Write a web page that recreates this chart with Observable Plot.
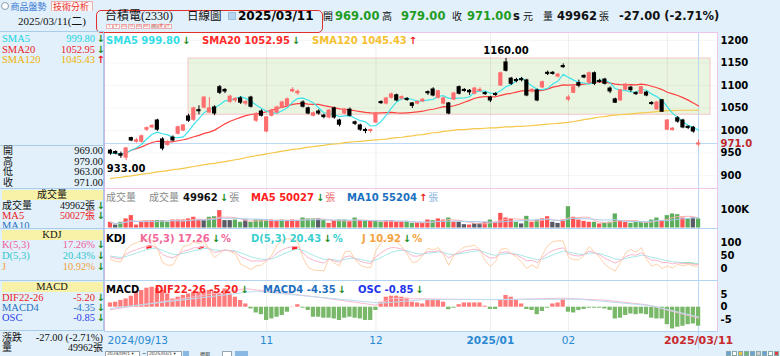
<!DOCTYPE html>
<html><head><meta charset="utf-8">
<script src="https://cdn.jsdelivr.net/npm/d3@7"></script>
<script src="https://cdn.jsdelivr.net/npm/@observablehq/plot@0.6"></script>
<style>
html,body{margin:0;padding:0;background:#e1f0fb;}
#root{position:relative;width:780px;height:356px;overflow:hidden;background:#e1f0fb;}
.t{position:absolute;line-height:1.15;white-space:nowrap;transform:translateY(-50%);}
.b{position:absolute;box-sizing:border-box;}
.num{font-family:"DejaVu Sans",sans-serif;font-weight:bold;font-size:10px;}
.cjk{font-family:"Noto Sans CJK TC",sans-serif;font-size:10px;}
.ser{font-family:"Liberation Serif","Noto Sans CJK TC",serif;font-size:10.5px;color:#111;}
.t span{display:inline-block;}
svg g[aria-label="y-axis tick label"] text{font-weight:bold;}
</style></head><body><div id="root"></div>
<script>
// ---------------- data ----------------
const open = [955,952,947,940,983,975,975,1002,1007,1022,
 980,968,984,993,1000,1031,1024,1045,1051,1040,
 1051,1096,1090,1064,1067,1071,1060,1073,1022,1042,
 998,1033,1040,1051,1055,1087,1083,1062,1049,1033,
 1042,1033,1029,1049,1022,1038,1046,1018,1011,1001,
 999,1018,1063,1060,1073,1078,1071,1070,1060,1060,
 1065,1085,1091,1073,1060,1060,1069,1096,1090,1088,
 1082,1088,1083,1073,1081,1100,1151,1115,1112,1114,
 1111,1087,1089,1096,1128,1128,1120,1143,1069,1084,
 1105,1121,1107,1127,1110,1113,1093,1069,1067,1091,
 1095,1083,1082,1084,1061,1047,1067,1002,1001,1027,
 1022,1008,1006,969];
const close = [949,949,944,960,978,978,987,1005,1010,1002,
 960,974,978,1007,1011,1022,1049,1043,1073,1049,
 1038,1084,1087,1075,1070,1062,1063,1053,1036,1033,
 1029,1044,1051,1062,1069,1090,1086,1053,1038,1038,
 1038,1030,1044,1029,1013,1046,1033,1015,1002,999,
 1001,1038,1061,1071,1080,1067,1074,1068,1055,1063,
 1068,1083,1078,1087,1071,1038,1082,1082,1088,1085,
 1093,1090,1081,1067,1079,1127,1133,1104,1110,1112,
 1078,1090,1067,1107,1126,1126,1124,1141,1073,1096,
 1100,1118,1127,1104,1108,1104,1087,1062,1089,1102,
 1090,1081,1096,1078,1059,1062,1042,1022,1004,1020,
 1007,1006,998,971];
const high = [958,955,952,962,985,982,990,1008,1013,1025,
 984,978,988,1010,1013,1036,1052,1055,1075,1073,
 1055,1100,1093,1078,1073,1075,1066,1076,1040,1046,
 1031,1047,1054,1065,1072,1095,1090,1066,1052,1041,
 1046,1036,1047,1052,1025,1049,1050,1021,1014,1005,
 1003,1040,1066,1073,1083,1081,1077,1073,1062,1066,
 1071,1088,1095,1089,1074,1062,1085,1099,1093,1091,
 1096,1095,1086,1076,1084,1130,1160,1118,1116,1118,
 1114,1093,1092,1110,1132,1131,1127,1148,1078,1100,
 1112,1124,1130,1130,1114,1116,1097,1072,1091,1104,
 1098,1086,1098,1087,1064,1064,1069,1024,1006,1031,
 1025,1010,1009,979];
const low = [945,946,938,933,975,972,972,998,1004,998,
 955,965,975,990,998,1018,1020,1035,1048,1038,
 1033,1080,1082,1060,1062,1058,1055,1050,1018,1030,
 995,1030,1037,1048,1052,1084,1078,1050,1035,1030,
 1034,1026,1026,1025,1008,1035,1030,1011,998,993,
 994,1015,1058,1057,1070,1064,1068,1065,1049,1057,
 1062,1078,1075,1070,1057,1035,1066,1079,1085,1078,
 1079,1085,1078,1062,1076,1098,1130,1100,1106,1108,
 1075,1083,1064,1093,1122,1123,1117,1138,1064,1082,
 1095,1115,1104,1100,1105,1101,1082,1060,1065,1088,
 1085,1078,1080,1075,1056,1045,1040,1000,999,1016,
 1004,1002,994,963];
const sma120 = [893,895,896,898,899,901,903,904,906,908,909,911,913,914,916,
 918,920,922,924,926,927,929,931,933,
 935,937,940,942,944,946,
 948,950,952,954,956,958,959,961,963,
 964,966,967,969,970,971,973,974,
 975,976,977,978,979,980,981,983,984,985,
 987,988,990,991,993,995,996,998,999,1001,
 1002,1002,1003,1004,1004,1005,1006,1006,1007,1008,
 1008,1009,1009,1010,
 1011,1012,1013,1014,1015,1016,1017,1018,
 1020,1022,1024,1026,1028,1030,1031,1033,
 1034,1035,1036,1037,
 1038,1039,1040,1041,1042,1043,
 1044,1044,1045,1045,1045,1045,1045.43];
// volume in thousands of 張
const volume = [31,16,31,49,67,16,31,40,40,40,
 40,31,43,43,43,49,58,43,40,58,
 61,94,40,40,43,31,43,31,43,43,
 43,43,40,43,40,43,40,54,49,49,
 49,40,25,40,43,43,36,54,40,36,
 36,36,31,40,40,31,31,36,25,25,
 25,43,40,49,43,54,31,31,18,16,
 25,25,31,43,31,79,54,49,31,22,
 63,31,43,49,61,31,25,43,115,58,
 43,36,31,31,22,25,31,76,40,31,
 25,31,31,31,43,54,40,67,76,72,
 54,49,54,49];
const volColor = ("rkgrrrrrrg"+"ggrrrrrrkg"+"grkkggkggg"+"grrgrrrggg"+"kgrrggrgrg"+
 "rggrrrrggr"+"rrgrrgrkkr"+"kkrgrrrrgk"+"grgrrkkrgr"+"rrrgrgggrr"+"ggggggrggg"+"rgkg").split("");
const macdBar = [1.7,2,2.7,3.3,4.4,6,6.7,7.6,8,7.6,
 6.7,5.3,3.3,4,4.7,5.3,6,6,6.3,6.7,
 6.3,5.3,7.3,5.3,4,2.7,1.3,-0.7,-2.3,-3,
 -5.3,-4.7,-4,-3.3,-2,0.1,1,-0.4,-1.3,-4,
 -4,-4.4,-4.4,-4.7,-5.3,-4.4,-4,-4.4,-4.7,-5.3,
 -5.3,-1.3,2,4,4.4,4.4,4,3.6,2,1.7,
 1.3,2.7,3,3,2,-1,-0.4,1,1.7,1.7,
 1.7,1.7,0.4,-0.9,-0.9,2.7,4.7,4,2.7,1.3,
 -0.9,-1.3,-3,-1.7,-0.4,1.3,1.7,3,-2,-2.3,
 -1.3,-0.9,-0.4,-0.4,-0.4,-0.7,-1.3,-4.7,-4.4,-3.3,
 -2.7,-3,-2.7,-3,-4.4,-4.7,-4.7,-7,-8.7,-8,
 -7.6,-7,-6.7,-7.6];
// faint DIF / MACD lines (index, value)
const difLine = [[0,-1],[26,7.4],[40,4],[51,0.8],[54,3.5],[65,3.2],[75,3],[87,3.6],[95,2.8],[103,1],[113,-4.4]];
const signalLine = [[0,-0.5],[28,6.4],[52,1.6],[60,3],[90,3.2],[104,0.6],[113,-3.9]];
const rangeBox = {i1:15, i2:115.3, lo:1035, hi:1160};
const priceTicks = [900,950,1000,1050,1100,1150,1200];
const volTicks = [100];
const kdjTicks = [0,50,100];
const macdTicks = [-5,0,5];
const monthStarts = [30,51,73,88,107];
const tickIdx = [0,30,51,73,88,113];
const tickLabels = ["2024/09/13","11","12","2025/01","02","2025/03/11"];

// ---------------- derived ----------------
const rows = open.map((o,i)=>({i, open:o, close:close[i], high:high[i], low:low[i],
  vol:volume[i], vc:volColor[i], macd:macdBar[i], sma120:sma120[i]}));
const lastIdx = rows.length-1, lastClose = close[lastIdx];
// KDJ(5,3) indicator from the candles
const kd = []; {let K=50,D=50; for(let i=0;i<rows.length;i++){const s=Math.max(0,i-4);
  const hh=d3.max(high.slice(s,i+1)), ll=d3.min(low.slice(s,i+1));
  const rsv=hh===ll?50:(close[i]-ll)/(hh-ll)*100; K=K*2/3+rsv/3; D=D*2/3+K/3;
  kd.push({i,k:K,d:D,j:3*K-2*D});}}

// ---------------- layout helpers ----------------
const root=document.getElementById("root");
function box(x,y,w,h,st){const d=document.createElement("div");d.className="b";
  Object.assign(d.style,{left:x+"px",top:y+"px",width:w+"px",height:h+"px"},st||{});root.appendChild(d);return d;}
function txt(x,y,s,cls,st){const d=document.createElement("div");d.className="t "+(cls||"");d.textContent=s;
  Object.assign(d.style,{left:x+"px",top:y+"px"},st||{});root.appendChild(d);return d;}
function txtR(xr,y,s,cls,st){const d=txt(0,y,s,cls,st);d.style.left="auto";d.style.right=(780-xr)+"px";return d;}
function txtC(xc,y,s,cls,st){const d=txt(xc,y,s,cls,st);d.style.transform="translate(-50%,-50%)";return d;}
const GREEN="#1c8c1c", RED="#ee2222";
function arrow(x,y,up){return txt(x,y,up?"↑":"↓","num",{color:up?RED:GREEN,fontSize:"10px"});}
// legend group: flowing spans starting at x
function group(x,y,parts){const d=txt(x,y,"","");parts.forEach(([s,cls,st])=>{const sp=document.createElement("span");
  sp.className=cls;sp.textContent=s;Object.assign(sp.style,st||{});d.appendChild(sp);});return d;}
const dn=()=>["↓","num",{color:GREEN,margin:"0 1px 0 2px"}];
const up=()=>["↑","num",{color:RED,margin:"0 1px 0 2px"}];

// chart area background
box(104,32,614,299,{background:"#fff"});

// ---------------- plots ----------------
const xDomain=[(104-110)/5.204,(718-110)/5.204];
const common={width:676,marginLeft:0,marginRight:62,marginTop:0,marginBottom:0,
  x:{domain:xDomain,axis:null},
  style:{background:"transparent",fontFamily:"DejaVu Sans",fontSize:"10px",color:"#000",overflow:"visible"}};
function place(svg,top){svg.style.position="absolute";svg.style.left="104px";svg.style.top=top+"px";svg.style.maxWidth="none";root.appendChild(svg);}
const grid=()=>Plot.ruleX(monthStarts,{stroke:"#000",strokeOpacity:0.07});
const lastRule=()=>Plot.ruleX([lastIdx],{stroke:"#b9d9f7"});
const axis=(t,fmt)=>Plot.axisY(t,{anchor:"right",label:null,tickSize:0,tickPadding:2,fontWeight:"bold",fontSize:10,tickFormat:fmt||(d=>String(d))});
const upC="#ff6e6e", dnC="#000";
const cColor=d=>d.close>=d.open?upC:dnC;
const iLo=d3.minIndex(low), iHi=d3.maxIndex(high);

place(Plot.plot({...common,height:156,y:{domain:[871.1,1217.8],axis:null},marks:[
  Plot.rect([rangeBox],{x1:"i1",x2:"i2",y1:"lo",y2:"hi",fill:"#eaf5e1",stroke:"#f6c6c6"}),
  grid(),
  Plot.ruleY(priceTicks,{stroke:"#000",strokeOpacity:0.035}),
  Plot.ruleY([lastClose],{stroke:"#b9d9f7"}),
  lastRule(),
  Plot.line(rows,{x:"i",y:"sma120",stroke:"#f5c84a",strokeWidth:1.2}),
  Plot.line(rows,Plot.windowY({k:20,anchor:"end",strict:false},{x:"i",y:"close",stroke:"#ff4040",strokeWidth:1.2})),
  Plot.line(rows,Plot.windowY({k:5,anchor:"end",strict:false},{x:"i",y:"close",stroke:"#3fe3ea",strokeWidth:1.2})),
  Plot.ruleX(rows,{x:"i",y1:"low",y2:"high",stroke:cColor,strokeWidth:1}),
  Plot.rect(rows,{x1:d=>d.i-0.4,x2:d=>d.i+0.4,y1:d=>Math.min(d.open,d.close),y2:d=>Math.max(d.open,d.close),fill:cColor,insetTop:-0.6,insetBottom:-0.6}),
  Plot.text([rows[iLo]],{x:"i",y:"low",text:d=>d.low.toFixed(2),dy:8,fontWeight:"bold",fontSize:10,fill:"#000"}),
  Plot.text([rows[iHi]],{x:"i",y:"high",text:d=>d.high.toFixed(2),dy:-8,fontWeight:"bold",fontSize:10,fill:"#000"}),
  axis(priceTicks),
  Plot.text([lastClose],{x:xDomain[1],y:d=>d,text:d=>d.toFixed(1),dx:2,textAnchor:"start",fill:"#c0282c",fontWeight:"bold",fontSize:10})
]}),32);

const vColor={r:"#ff5252",g:"#5cae5c",k:"#5a5a66"};
place(Plot.plot({...common,height:40,y:{domain:[-2.7,213.5],axis:null},marks:[
  grid(),lastRule(),
  Plot.rect(rows,{x1:d=>d.i-0.41,x2:d=>d.i+0.41,y1:0,y2:"vol",fill:d=>vColor[d.vc]}),
  Plot.line(rows,Plot.windowY({k:5,anchor:"end",strict:false},{x:"i",y:"vol",stroke:"#ffb4b4",strokeWidth:1})),
  Plot.line(rows,Plot.windowY({k:10,anchor:"end",strict:false},{x:"i",y:"vol",stroke:"#a8ccee",strokeWidth:1})),
  axis(volTicks,d=>d+"K")
]}),188);

place(Plot.plot({...common,height:52,y:{domain:[-46.2,153.8],axis:null},marks:[
  grid(),lastRule(),
  Plot.areaY(kd,{x:"i",y1:d=>d.k>80&&d.k>d.d?d.d:NaN,y2:"k",fill:"#ff1a1a"}),
  Plot.areaY(kd,{x:"i",y1:d=>d.k<20&&d.k<d.d?d.d:NaN,y2:"k",fill:"#22cc22"}),
  Plot.line(kd,{x:"i",y:"j",stroke:"#ffd2aa",strokeWidth:1}),
  Plot.line(kd,{x:"i",y:"d",stroke:"#a8e8e8",strokeWidth:1}),
  Plot.line(kd,{x:"i",y:"k",stroke:"#f9b6cc",strokeWidth:1}),
  axis(kdjTicks)
]}),228);

place(Plot.plot({...common,height:51,y:{domain:[-9.72,10.68],axis:null},marks:[
  grid(),lastRule(),
  Plot.rect(rows,{x1:d=>d.i-0.41,x2:d=>d.i+0.41,y1:0,y2:"macd",fill:d=>d.macd>=0?"#ff7b7b":"#78b868"}),
  Plot.line(difLine,{x:d=>d[0],y:d=>d[1],stroke:"#f6bccb",strokeWidth:1}),
  Plot.line(signalLine,{x:d=>d[0],y:d=>d[1],stroke:"#bcdcf2",strokeWidth:1}),
  axis(macdTicks)
]}),280);

const ticks=tickIdx.map((x,k)=>({x,label:tickLabels[k]}));
place(Plot.plot({...common,height:21,marginBottom:3,marks:[
  lastRule(),
  Plot.text(ticks.slice(0,1),{x:"x",text:"label",textAnchor:"start",dx:-3,frameAnchor:"middle",fill:"#2a88d2",fontSize:10.5}),
  Plot.text([ticks[1],ticks[2],ticks[4]],{x:"x",text:"label",frameAnchor:"middle",fill:"#2a88d2",fontSize:10.5}),
  Plot.text([ticks[3]],{x:"x",text:"label",frameAnchor:"middle",fill:"#2a88d2",fontSize:10.5,fontWeight:"bold"}),
  Plot.text([ticks[5]],{x:"x",text:"label",frameAnchor:"middle",fill:"#c8282c",fontSize:11,fontWeight:"bold"})
]}),331);

// ---------------- borders ----------------
box(104,32,614,1,{background:"#f0c2ec"});
box(104,32,1,299,{background:"#cdb6ea"});
box(717,32,1,299,{background:"#f0c2ec"});
box(104,187.5,614,1.5,{background:"#f2c4ee"});
box(104,228,614,1,{background:"#b2d4f4"});
box(104,280,614,1,{background:"#b2d4f4"});
box(104,330.5,614,1,{background:"#b2d4f4"});

// ---------------- header ----------------
box(1,1.5,8,8,{borderRadius:"50%",border:"1px solid #8a9aa8",background:"#fff"});
txt(10.5,6,"商品盤勢","cjk",{color:"#3a78d0",fontSize:"9px",lineHeight:"1"});
box(51,0.5,42,10.5,{background:"#fff6f6",border:"1px solid #eab0b0",borderBottom:"none"});
txt(53,6,"技術分析","cjk",{color:"#e8322a",fontSize:"9px",lineHeight:"1"});
txtC(52,20.5,"2025/03/11(二)","ser",{fontSize:"11px"});
box(95.5,9.5,227,23.5,{border:"1.5px solid #e0302c",borderRadius:"5px"});
txt(105,16.5,"台積電(2330)","ser",{fontSize:"12px"});
txt(187,16.5,"日線圖","ser",{fontSize:"11.5px"});
box(228,12,8,8,{background:"#b5d3ef",border:"1px solid #9cc0e0"});
txt(238,16.5,"2025/03/11","num",{fontSize:"12px",color:"#000"});
const btnX=[106,113,120.5,128,135.5,143,151,158,165], btnL=["1","5","10","15","30","60","日","週","月"];
btnX.forEach((x,k)=>{box(x,23.5,6.5,5.5,{background:k===6?"#d0d0d0":"#fff",border:"0.5px solid #f0b0b0"});
  txtC(x+3.25,26.3,btnL[k],"num",{fontSize:"3.5px",color:"#e04040",fontWeight:"normal"});});
const G="#1f9c1f";
txt(323,16.5,"開","ser",{fontSize:"10px"});
txt(335,16.5,"969.00","num",{fontSize:"11.5px",color:G});
txt(382,16.5,"高","ser",{fontSize:"10px"});
txt(401,16.5,"979.00","num",{fontSize:"11.5px",color:G});
txt(452,16.5,"收","ser",{fontSize:"10px"});
txt(467,16.5,"971.00","num",{fontSize:"11.5px",color:G});
txt(513,16.5,"s","num",{fontSize:"11.5px",color:"#111"});
txt(523,16.5,"元","ser",{fontSize:"10px"});
txt(543,16.5,"量","ser",{fontSize:"10px"});
txt(557,16.5,"49962","num",{fontSize:"11.5px",color:"#111"});
txt(599,16.5,"張","ser",{fontSize:"10px"});
txt(619,16.5,"-27.00 (-2.71%)","num",{fontSize:"11.5px",color:"#111"});

// ---------------- chart legends ----------------
group(106,39,[["SMA5 999.80","num",{color:"#33dde6"}],dn()]);
group(202,39,[["SMA20 1052.95","num",{color:"#ff2a2a"}],dn()]);
group(312,39,[["SMA120 1045.43","num",{color:"#f5c030"}],up()]);

group(106,196,[["成交量","cjk",{color:"#8a8a8a"}]]);
group(149,196,[["成交量","cjk",{color:"#8a8a8a",marginRight:"4px"}],["49962","num",{color:"#111"}],dn(),["張","cjk",{color:"#8a8a8a"}]]);
group(251,196,[["MA5 50027","num",{color:"#ff2020"}],dn(),["張","cjk",{color:"#f06a6a"}]]);
group(347,196,[["MA10 55204","num",{color:"#1a6fc0"}],up(),["張","cjk",{color:"#8ab6e0"}]]);

group(106,237,[["KDJ","num",{color:"#000"}]]);
group(140,237,[["K(5,3) 17.26","num",{color:"#f2699a"}],dn(),["%","num",{color:"#f2699a"}]]);
group(251,237,[["D(5,3) 20.43","num",{color:"#3ccfd0"}],dn(),["%","num",{color:"#3ccfd0"}]]);
group(362,237,[["J 10.92","num",{color:"#f5a443"}],dn(),["%","num",{color:"#f5a443"}]]);

group(106,288,[["MACD","num",{color:"#000"}]]);
group(155,288,[["DIF22-26 -5.20","num",{color:"#f52222"}],dn()]);
group(263,288,[["MACD4 -4.35","num",{color:"#1f6fc0"}],dn()]);
group(358,288,[["OSC -0.85","num",{color:"#2233ee"}],dn()]);

// ---------------- left info panel ----------------
[31,145,188,280,330].forEach(y=>box(0,y,104,1,{background:"#a9cce9"}));
box(103,31,1,300,{background:"#a9cce9"});
txt(2,39,"SMA5","ser",{color:"#19d5df"}); txtR(95,39,"999.80","ser",{color:"#19d5df"}); arrow(96.5,39);
txt(2,49.5,"SMA20","ser",{color:RED}); txtR(95,49.5,"1052.95","ser",{color:RED}); arrow(96.5,49.5);
txt(2,60,"SMA120","ser",{color:"#f0b000"}); txtR(95,60,"1045.43","ser",{color:"#f0b000"}); arrow(96.5,60,true);
[["開","969.00",151],["高","979.00",161.5],["低","963.00",172],["收","971.00",182.5]].forEach(([a,b,y])=>{
  txt(3,y,a,"ser",{fontSize:"10px"}); txtR(103,y,b,"ser",{fontSize:"10.5px"});});
txt(2,206,"成交量","ser",{fontSize:"10px"}); txtR(95,206,"49962張","ser",{fontSize:"10px"}); arrow(96.5,206);
txt(2,216,"MA5","ser",{color:RED}); txtR(95,216,"50027張","ser",{color:RED,fontSize:"10px"}); arrow(96.5,216);
txt(2,226,"MA10","ser",{color:"#2a72c0"});
box(0,228,103,2,{background:"#e1f0fb"}); box(0,228,104,1,{background:"#a9cce9"});
box(2,189.5,101,10,{background:"#f8f2a8"}); txtC(52,194.7,"成交量","ser",{fontSize:"10px"});
box(2,229.5,101,10,{background:"#f8f2a8"}); txtC(52,234.6,"KDJ","ser");
txt(2,245,"K(5,3)","ser",{color:"#f0609a"}); txtR(95,245,"17.26%","ser",{color:"#f0609a"}); arrow(96.5,245);
txt(2,256,"D(5,3)","ser",{color:"#33c7cc"}); txtR(95,256,"20.43%","ser",{color:"#33c7cc"}); arrow(96.5,256);
txt(2,267,"J","ser",{color:"#f5a040"}); txtR(95,267,"10.92%","ser",{color:"#f5a040"}); arrow(96.5,267);
box(2,282,101,10,{background:"#f8f2a8"}); txtC(52,287,"MACD","ser");
txt(2,298.3,"DIF22-26","ser",{color:RED}); txtR(95,298.3,"-5.20","ser",{color:RED}); arrow(96.5,298.3);
txt(2,308.3,"MACD4","ser",{color:"#2a72c0"}); txtR(95,308.3,"-4.35","ser",{color:"#2a72c0"}); arrow(96.5,308.3);
txt(2,318.3,"OSC","ser",{color:"#2d3ee8"}); txtR(95,318.3,"-0.85","ser",{color:"#2d3ee8"}); arrow(96.5,318.3);
txt(2,338.3,"漲跌","ser",{fontSize:"10px"}); txtR(103,338.3,"-27.00 (-2.71%)","ser");
txt(2,348,"量","ser",{fontSize:"10px"}); txtR(103,348,"49962張","ser",{fontSize:"10px"});

// ---------------- bottom controls ----------------
box(105,351,35,7,{background:"#fff",border:"1px solid #98a4b0"});
txt(107,354,"2024/09/1 ▾","num",{fontSize:"4.5px",fontWeight:"normal",color:"#333"});
txt(142,354,"~","num",{fontSize:"5px",fontWeight:"normal"});
box(147,351,35,7,{background:"#fff",border:"1px solid #98a4b0"});
txt(149,354,"2025/03/1 ▾","num",{fontSize:"4.5px",fontWeight:"normal",color:"#333"});
box(183,351,6,6,{background:"#8ab8e4"});
txt(200,354,"週期","cjk",{fontSize:"5px",color:"#333"});
box(222,351,10,7,{background:"#fff",border:"1px solid #98a4b0"});
box(235,351,13,6,{background:"#8ab8e4"});
["#6aa0d8","#ffffff","#f0c040","#70b870","#6aa0d8","#d0d0d0","#6aa0d8","#ffffff","#e04040"].forEach((c,k)=>
  box(726+k*6,350.5,5,5,{background:c,border:"0.5px solid #8aa"}));
</script></body></html>
